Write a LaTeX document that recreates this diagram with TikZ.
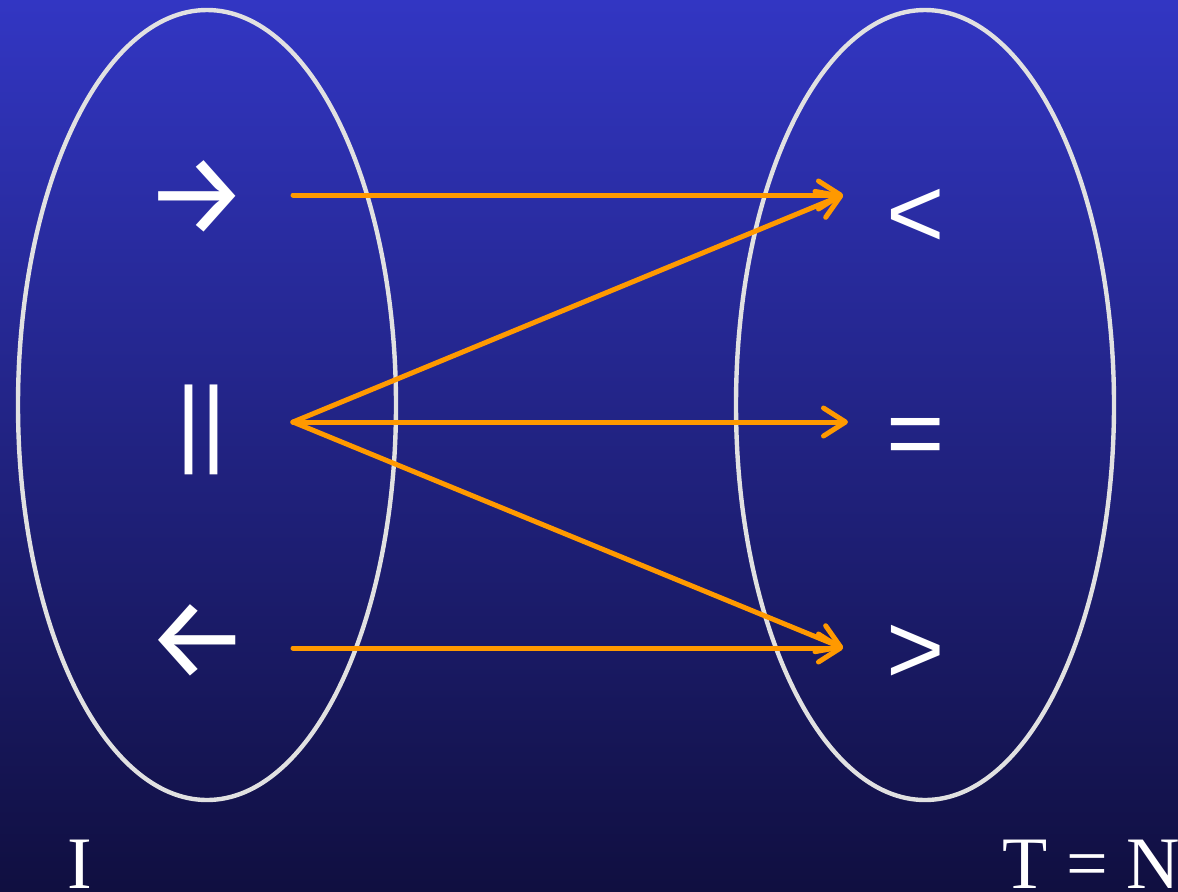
\documentclass[tikz,border=0pt]{standalone}
\usepackage{fontspec}
\setmainfont{Liberation Serif}
\newfontfamily\symsans{Liberation Sans}
\newfontfamily\arrowfont{Fira Sans}
\usetikzlibrary{arrows.meta}
\definecolor{bgtop}{RGB}{50,54,195}
\definecolor{bgbot}{RGB}{16,15,64}
\definecolor{ringgray}{RGB}{225,225,225}
\definecolor{maporange}{RGB}{255,153,0}
\tikzset{
  setring/.style={draw=ringgray, line width=2.2pt},
  mapline/.style={draw=maporange, line width=2.5pt, line cap=round,
    -{Straight Barb[length=11pt,width=14pt,line cap=round,line join=round]}},
  relsym/.style={text=white, font=\symsans\fontsize{50}{50}\selectfont, inner sep=0pt},
  dirsym/.style={text=white, font=\arrowfont\fontsize{58}{58}\selectfont, inner sep=0pt},
  setlabel/.style={text=white, font=\fontsize{37}{37}\selectfont, inner sep=0pt}
}
\begin{document}
\begin{tikzpicture}[x=0.5pt,y=-0.5pt]
\useasboundingbox (0,0) rectangle (1178,891);
\fill[top color=bgtop, bottom color=bgbot] (0,0) rectangle (1178,891);
% sets
\draw[setring] (207,405) ellipse [x radius=189, y radius=395];
\draw[setring] (925,405) ellipse [x radius=189, y radius=395];
% left elements
\node[dirsym] (right) at (197,198) {→};
\node[relsym, font=\symsans\fontsize{48}{48}\selectfont] (par) at (201,430) {||};
\node[dirsym] (left) at (198,642) {←};
% right elements
\node[relsym] (lt) at (916,218) {<};
\node[relsym] (eq) at (916,443) {=};
\node[relsym] (gt) at (916,654) {>};
% labels
\node[setlabel, anchor=base] (setI) at (79.5,888) {I};
\node[setlabel, anchor=base west] (setT) at (1002,888) {T = N};
% connector endpoints
\coordinate (s1) at (293,195);
\coordinate (s2) at (293,422);
\coordinate (s3) at (293,648);
\coordinate (t1) at (843,195);
\coordinate (t2) at (848,422);
\coordinate (t3) at (843,648);
\draw[mapline] (s1) -- (t1);
\draw[mapline] (s2) -- (t1);
\draw[mapline] (s2) -- (t2);
\draw[mapline] (s2) -- (t3);
\draw[mapline] (s3) -- (t3);
\end{tikzpicture}
\end{document}
